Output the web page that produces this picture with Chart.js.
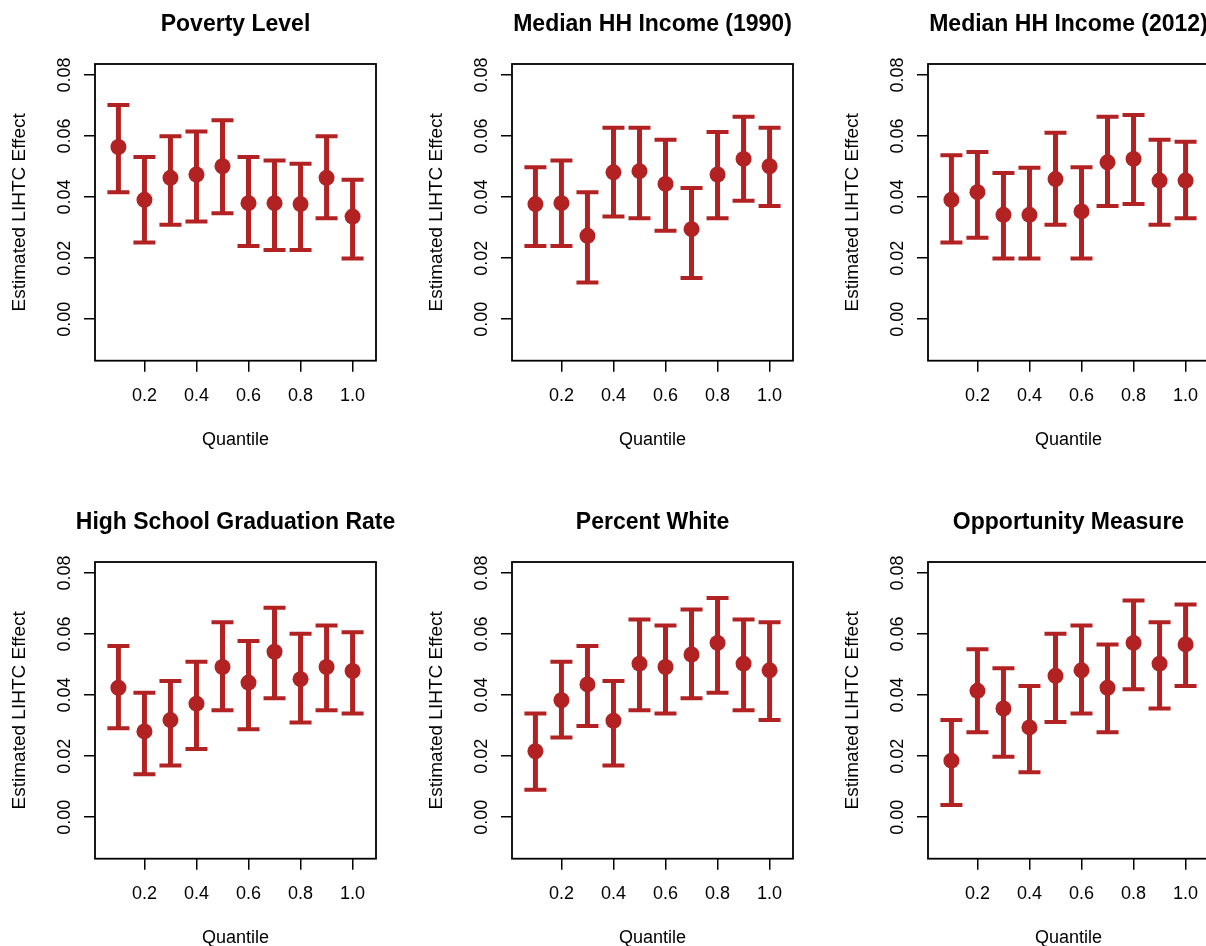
<!DOCTYPE html>
<html>
<head>
<meta charset="utf-8">
<title>Estimated LIHTC Effect by Quantile</title>
<script src="https://cdn.jsdelivr.net/npm/chart.js@4.4.1/dist/chart.umd.min.js"></script>
<style>
    html, body { margin: 0; padding: 0; background: #fff; }
    body { width: 1206px; height: 946px; overflow: hidden; position: relative; }
    canvas.panel { position: absolute; }
</style>
</head>
<body>
<script>
const QUANTILES = [0.1, 0.2, 0.3, 0.4, 0.5, 0.6, 0.7, 0.8, 0.9, 1.0];
const X_TICKS = [0.2, 0.4, 0.6, 0.8, 1.0];
const Y_TICKS = [0, 0.02, 0.04, 0.06, 0.08];

const TITLES = [
    "Poverty Level",
    "Median HH Income (1990)",
    "Median HH Income (2012)",
    "High School Graduation Rate",
    "Percent White",
    "Opportunity Measure",
];

const povertyEst = [0.0564, 0.0391, 0.0463, 0.0474, 0.0501, 0.0380, 0.0380, 0.0377, 0.0463, 0.0336];
const povertyLo  = [0.0416, 0.0251, 0.0309, 0.0320, 0.0347, 0.0240, 0.0227, 0.0227, 0.0331, 0.0199];
const povertyHi  = [0.0702, 0.0531, 0.0599, 0.0615, 0.0652, 0.0531, 0.0520, 0.0509, 0.0599, 0.0457];

const income1990Est = [0.0377, 0.0380, 0.0273, 0.0481, 0.0485, 0.0443, 0.0295, 0.0474, 0.0525, 0.0501];
const income1990Lo  = [0.0240, 0.0240, 0.0120, 0.0336, 0.0331, 0.0290, 0.0135, 0.0331, 0.0388, 0.0371];
const income1990Hi  = [0.0498, 0.0520, 0.0416, 0.0627, 0.0627, 0.0588, 0.0430, 0.0613, 0.0663, 0.0627];

const income2012Est = [0.0391, 0.0416, 0.0342, 0.0342, 0.0459, 0.0353, 0.0514, 0.0525, 0.0454, 0.0454];
const income2012Lo  = [0.0251, 0.0267, 0.0199, 0.0199, 0.0309, 0.0199, 0.0371, 0.0377, 0.0309, 0.0331];
const income2012Hi  = [0.0537, 0.0548, 0.0479, 0.0496, 0.0611, 0.0498, 0.0663, 0.0669, 0.0588, 0.0581];

const gradRateEst = [0.0424, 0.0281, 0.0318, 0.0372, 0.0492, 0.0441, 0.0542, 0.0452, 0.0492, 0.0479];
const gradRateLo  = [0.0291, 0.0141, 0.0169, 0.0223, 0.0350, 0.0288, 0.0390, 0.0310, 0.0350, 0.0340];
const gradRateHi  = [0.0561, 0.0408, 0.0446, 0.0509, 0.0639, 0.0577, 0.0686, 0.0601, 0.0628, 0.0606];

const whiteEst = [0.0216, 0.0383, 0.0435, 0.0316, 0.0503, 0.0492, 0.0533, 0.0571, 0.0503, 0.0481];
const whiteLo  = [0.0090, 0.0261, 0.0299, 0.0169, 0.0350, 0.0340, 0.0390, 0.0408, 0.0350, 0.0318];
const whiteHi  = [0.0340, 0.0509, 0.0561, 0.0446, 0.0648, 0.0628, 0.0680, 0.0718, 0.0648, 0.0639];

const opportunityEst = [0.0185, 0.0414, 0.0356, 0.0294, 0.0463, 0.0481, 0.0424, 0.0571, 0.0503, 0.0566];
const opportunityLo  = [0.0040, 0.0278, 0.0198, 0.0147, 0.0312, 0.0340, 0.0278, 0.0419, 0.0356, 0.0430];
const opportunityHi  = [0.0318, 0.0550, 0.0488, 0.0430, 0.0601, 0.0628, 0.0566, 0.0710, 0.0639, 0.0697];

const SERIES = [
    [povertyEst, povertyLo, povertyHi],
    [income1990Est, income1990Lo, income1990Hi],
    [income2012Est, income2012Lo, income2012Hi],
    [gradRateEst, gradRateLo, gradRateHi],
    [whiteEst, whiteLo, whiteHi],
    [opportunityEst, opportunityLo, opportunityHi],
];

const RED = "#b22222";
const FONT = '"Liberation Sans", Arial, Helvetica, sans-serif';
// canvas is symmetric round the plot box so the title centres over it
const CANVAS_W = 471;
const CANVAS_H = 498;
const COL_LEFT = [0, 417, 833];
const ROW_TOP = [0, 498];

Chart.defaults.font.family = FONT;
Chart.defaults.color = "#000";

// R-style box round the plot region
const boxPlugin = {
    id: "plotBox",
    afterDraw(chart) {
        const { ctx, chartArea: { left, top, right, bottom } } = chart;
        ctx.save();
        ctx.strokeStyle = "#000";
        ctx.lineWidth = 1.8;
        ctx.strokeRect(left, top, right - left, bottom - top);
        ctx.restore();
    },
};

const axisGrid = {
    drawOnChartArea: false,
    drawTicks: true,
    tickLength: 11,
    color: "#000",
    lineWidth: 1.5,
};

const makePanel = (index) => {
    const [est, lo, hi] = SERIES[index];
    const canvas = document.createElement("canvas");
    canvas.className = "panel";
    canvas.width = CANVAS_W;
    canvas.height = CANVAS_H;
    canvas.style.left = COL_LEFT[index % 3] + "px";
    canvas.style.top = ROW_TOP[Math.floor(index / 3)] + "px";
    document.body.appendChild(canvas);

    const points = QUANTILES.map((q, i) => ({ x: q, y: est[i] }));
    const whiskers = QUANTILES.flatMap((q, i) => [{ x: q, y: lo[i] }, { x: q, y: hi[i] }, { x: q, y: null }]);
    const caps = QUANTILES.flatMap((q, i) => [{ x: q, y: lo[i] }, { x: q, y: hi[i] }]);

    new Chart(canvas.getContext("2d"), {
        type: "scatter",
        data: {
            datasets: [
                {
                    data: points,
                    pointStyle: "circle",
                    pointRadius: 8,
                    backgroundColor: RED,
                    borderColor: RED,
                    borderWidth: 0,
                },
                {
                    data: caps,
                    pointStyle: "line",
                    pointRadius: 11,
                    borderColor: RED,
                    borderWidth: 4,
                },
                {
                    type: "line",
                    data: whiskers,
                    showLine: true,
                    spanGaps: false,
                    pointRadius: 0,
                    borderColor: RED,
                    borderWidth: 5,
                    borderCapStyle: "butt",
                },
            ],
        },
        options: {
            responsive: false,
            animation: false,
            devicePixelRatio: 1,
            layout: { padding: 0 },
            plugins: {
                legend: { display: false },
                tooltip: { enabled: false },
                title: {
                    display: true,
                    text: TITLES[index],
                    color: "#000",
                    font: { size: 23, weight: "bold", lineHeight: 1.2 },
                    padding: { top: 11.2, bottom: 25.2 },
                },
            },
            scales: {
                x: {
                    type: "linear",
                    min: 0.01,
                    max: 1.09,
                    afterBuildTicks: (scale) => {
                        scale.ticks = X_TICKS.map((value) => ({ value }));
                    },
                    afterFit: (scale) => {
                        scale.height = 137.3;
                    },
                    grid: axisGrid,
                    border: { display: false },
                    ticks: {
                        color: "#000",
                        font: { size: 18 },
                        padding: 13.5,
                        maxRotation: 0,
                        autoSkip: false,
                        callback: (value) => Number(value).toFixed(1),
                    },
                    title: {
                        display: true,
                        text: "Quantile",
                        color: "#000",
                        font: { size: 18, lineHeight: 1.2 },
                        padding: { top: 0, bottom: 47 },
                    },
                },
                y: {
                    type: "linear",
                    min: -0.0136,
                    max: 0.0836,
                    afterBuildTicks: (scale) => {
                        scale.ticks = Y_TICKS.map((value) => ({ value }));
                    },
                    afterFit: (scale) => {
                        scale.width = 95;
                    },
                    grid: axisGrid,
                    border: { display: false },
                    ticks: {
                        color: "#000",
                        font: { size: 18 },
                        minRotation: 90,
                        maxRotation: 90,
                        crossAlign: "center",
                        padding: 1,
                        autoSkip: false,
                        callback: (value) => Math.abs(value) < 1e-9 ? "0.00" : Number(value).toFixed(2),
                    },
                    title: {
                        display: true,
                        text: "Estimated LIHTC Effect",
                        color: "#000",
                        font: { size: 19, lineHeight: 1.2 },
                        padding: { top: 8.6, bottom: 0 },
                    },
                },
                // empty right margin, mirrors the left axis width
                yRight: {
                    type: "linear",
                    position: "right",
                    display: true,
                    min: -0.0136,
                    max: 0.0836,
                    afterFit: (scale) => {
                        scale.width = 95;
                    },
                    grid: { display: false },
                    border: { display: false },
                    ticks: { display: false },
                    title: { display: false },
                },
            },
        },
        plugins: [boxPlugin],
    });
};

TITLES.forEach((title, index) => makePanel(index));
</script>
</body>
</html>
